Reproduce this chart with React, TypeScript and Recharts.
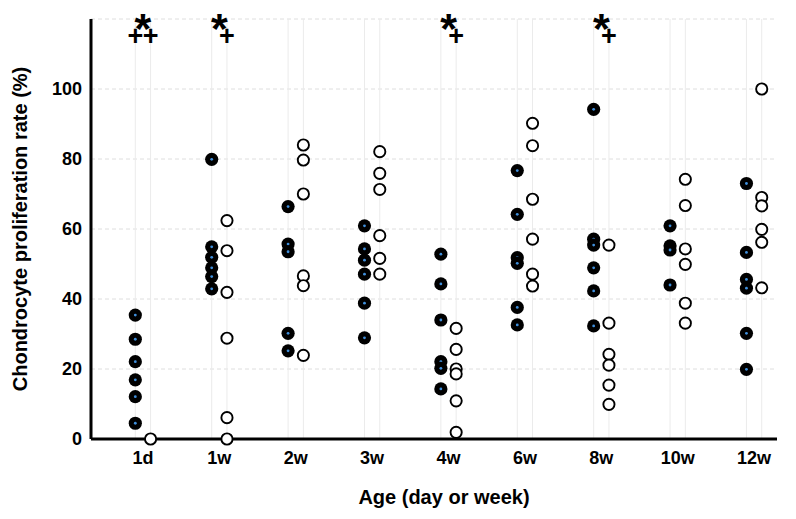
import React from 'react';
import { ScatterChart, Scatter, XAxis, YAxis, CartesianGrid, ReferenceLine } from 'recharts';

const categories = ['1d', '1w', '2w', '3w', '4w', '6w', '8w', '10w', '12w'];

const filledValues: number[][] = [
  [35.4, 28.5, 22.1, 16.9, 12.1, 4.5],
  [79.9, 54.9, 51.9, 48.9, 46.4, 42.9],
  [66.4, 55.7, 53.5, 30.2, 25.2],
  [60.9, 54.3, 51.1, 47.1, 38.8, 28.9],
  [52.8, 44.3, 34.0, 22.1, 20.2, 14.3],
  [76.7, 64.2, 51.8, 50.2, 37.6, 32.6],
  [94.2, 57.1, 55.4, 48.9, 42.3, 32.3],
  [60.9, 55.2, 54.0, 44.0],
  [73.0, 53.3, 45.6, 43.1, 30.2, 19.9],
];

const openValues: number[][] = [
  [0],
  [62.4, 53.8, 41.9, 28.8, 6.1, 0],
  [84.0, 79.7, 70.0, 46.6, 43.8, 23.9],
  [82.1, 75.9, 71.3, 58.1, 51.6, 47.1],
  [31.6, 25.6, 20.0, 18.6, 10.9, 1.9],
  [90.2, 83.8, 68.5, 57.1, 47.1, 43.7],
  [55.4, 33.1, 24.2, 21.1, 15.4, 9.9],
  [74.2, 66.7, 54.3, 49.9, 38.8, 33.1],
  [100, 69.0, 66.6, 59.9, 56.2, 43.2],
];

const yTicks = [0, 20, 40, 60, 80, 100, 120];
const starCategories = ['1d', '1w', '4w', '8w'];
const plusMarks: { cat: string; group: 'filled' | 'open' }[] = [
  { cat: '1d', group: 'filled' },
  { cat: '1d', group: 'open' },
  { cat: '1w', group: 'open' },
  { cat: '4w', group: 'open' },
  { cat: '8w', group: 'open' },
];
const STAR_LEVEL = 120;
const PLUS_LEVEL = 115.5;

const DODGE = 0.1;
const FONT = '"Liberation Sans", Arial, sans-serif';

const pos = (cat: string) => categories.indexOf(cat) + 1;

const filledData = filledValues.flatMap((vals, i) => vals.map((v) => ({ x: i + 1 - DODGE, y: v })));
const openData = openValues.flatMap((vals, i) => vals.map((v) => ({ x: i + 1 + DODGE, y: v })));
const starData = starCategories.map((c) => ({ x: pos(c), y: STAR_LEVEL }));
const plusData = plusMarks.map((m) => ({ x: pos(m.cat) + (m.group === 'filled' ? -DODGE : DODGE), y: PLUS_LEVEL }));
const columnLines = categories.flatMap((_, i) => [i + 1 - DODGE, i + 1 + DODGE]);

const FilledDot = (p: any) => (
  <g>
    <circle cx={p.cx} cy={p.cy} r={6.6} fill="#000" />
    <circle cx={p.cx} cy={p.cy} r={1.4} fill="#3f8fdc" />
  </g>
);
const OpenDot = (p: any) => (
  <circle cx={p.cx} cy={p.cy} r={5.6} fill="#fff" stroke="#000" strokeWidth={1.9} />
);
const StarMark = (p: any) => (
  <text x={p.cx} y={p.cy} dy={24} textAnchor="middle" fontFamily={FONT} fontWeight="bold" fontSize={43} fill="#000">*</text>
);
const PlusMark = (p: any) => (
  <text x={p.cx} y={p.cy} dy={10} textAnchor="middle" fontFamily={FONT} fontWeight="bold" fontSize={27} fill="#000">+</text>
);

export default function App() {
  return (
    <div style={{ position: 'absolute', left: 0, top: 0, background: '#fff' }}>
      <ScatterChart width={796} height={519} margin={{ top: 19, right: 19, bottom: 10, left: 0 }}>
        <CartesianGrid vertical={false} stroke="#dedede" strokeDasharray="4 3" />
        {columnLines.map((x) => (
          <ReferenceLine key={x} x={x} stroke="#ebebeb" strokeWidth={1} />
        ))}
        <XAxis
          type="number"
          dataKey="x"
          domain={[0.32, 9.3]}
          allowDataOverflow
          ticks={categories.map((_, i) => i + 1)}
          tickFormatter={(v: number) => categories[Math.round(v) - 1] ?? ''}
          axisLine={{ stroke: '#000', strokeWidth: 3 }}
          tickLine={false}
          tickSize={0}
          tickMargin={12}
          height={70}
          tick={{ fill: '#000', fontFamily: FONT, fontWeight: 'bold', fontSize: 18 }}
          label={{ value: 'Age (day or week)', position: 'insideBottom', offset: 5, dx: 10, fill: '#000', fontFamily: FONT, fontWeight: 'bold', fontSize: 20 }}
        />
        <YAxis
          type="number"
          dataKey="y"
          domain={[0, 120]}
          ticks={yTicks}
          interval={0}
          tickFormatter={(v: number) => (v === 120 ? '' : String(v))}
          axisLine={{ stroke: '#000', strokeWidth: 3 }}
          tickLine={false}
          tickSize={0}
          tickMargin={9}
          width={91}
          tick={{ fill: '#000', fontFamily: FONT, fontWeight: 'bold', fontSize: 18 }}
          label={{ value: 'Chondrocyte proliferation rate (%)', angle: -90, position: 'insideLeft', offset: 26, dx: -6, style: { textAnchor: 'middle' }, fill: '#000', fontFamily: FONT, fontWeight: 'bold', fontSize: 20 }}
        />
        <Scatter data={filledData} shape={FilledDot} isAnimationActive={false} />
        <Scatter data={openData} shape={OpenDot} isAnimationActive={false} />
        <Scatter data={starData} shape={StarMark} isAnimationActive={false} />
        <Scatter data={plusData} shape={PlusMark} isAnimationActive={false} />
      </ScatterChart>
    </div>
  );
}
